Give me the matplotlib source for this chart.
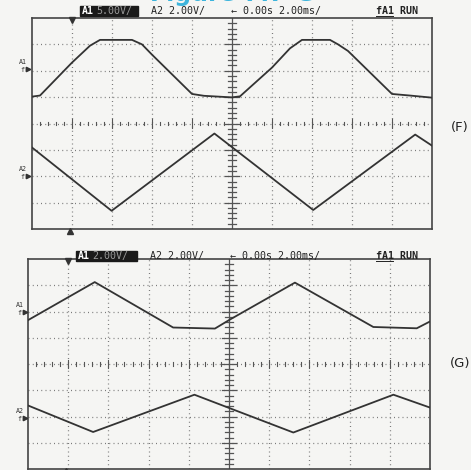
import matplotlib
matplotlib.use("Agg")
import matplotlib.pyplot as plt
import numpy as np

W, H = 471, 470

# ---- data (divisions: x 0..10, y -4..4) ----
f_a1_t = [0, 0.2, 1.0, 1.45, 1.7, 2.5, 2.75, 3.0, 4.0, 4.3, 5.0, 5.2, 6.0, 6.45, 6.75, 7.45, 7.65, 7.9, 9.0, 9.45, 10.0]
f_a1_v = [1.02, 1.06, 2.31, 2.95, 3.17, 3.17, 3.0, 2.61, 1.12, 1.05, 0.99, 1.03, 2.12, 2.85, 3.17, 3.17, 3.0, 2.75, 1.12, 1.06, 0.98]
f_a2_t = [0, 1.99, 4.56, 7.03, 9.58, 10.0]
f_a2_v = [-0.91, -3.31, -0.38, -3.28, -0.42, -0.84]

g_a1_t = [0, 1.66, 3.61, 4.65, 5.02, 6.64, 8.59, 9.67, 10.0]
g_a1_v = [1.67, 3.12, 1.39, 1.35, 1.69, 3.10, 1.41, 1.36, 1.62]
g_a2_t = [0, 1.62, 4.14, 6.6, 9.09, 10.0]
g_a2_v = [-1.58, -2.59, -1.17, -2.61, -1.17, -1.66]

f_header = ["A1", "5.00V/", "A2 2.00V/", "\u2190 0.00s 2.00ms/", "fA1 RUN"]
g_header = ["A1", "2.00V/", "A2 2.00V/", "\u2190 0.00s 2.00ms/", "fA1 RUN"]
panel_labels = ["(F)", "(G)"]

BG = "#f5f5f3"
TRACE = "#333333"
GRID = "#7a7a7a"

fig = plt.figure(figsize=(W / 100, H / 100), dpi=100)
fig.patch.set_facecolor(BG)


def px_axes(left, top, right, bottom):
    return fig.add_axes([left / W, 1 - bottom / H, (right - left) / W, (bottom - top) / H])


def T(x, y, s, **kw):
    fig.text(x / W, 1 - y / H, s, **kw)


def scope(ax, t1, v1, t2, v2):
    ax.set_xlim(0, 10)
    ax.set_ylim(-4, 4)
    ax.set_facecolor(BG)
    ax.set_xticks([])
    ax.set_yticks([])
    for sp in ax.spines.values():
        sp.set_color("#444444")
        sp.set_linewidth(1.2)
    # dotted grid
    for i in range(1, 10):
        if i == 5:
            continue
        ax.plot([i, i], [-4, 4], color=GRID, lw=0.9, ls=(0, (0.8, 2.6)), zorder=1)
    for j in range(-3, 4):
        if j == 0:
            continue
        ax.plot([0, 10], [j, j], color=GRID, lw=0.9, ls=(0, (0.8, 2.6)), zorder=1)
    # centre horizontal (dotted + ticks)
    ax.plot([0, 10], [0, 0], color=GRID, lw=0.9, ls=(0, (0.8, 2.6)), zorder=1)
    for k in range(1, 50):
        x = k * 0.2
        h = 0.17 if k % 5 == 0 else 0.07
        ax.plot([x, x], [-h, h], color="#555555", lw=0.8, zorder=1)
    # centre vertical (solid + ticks)
    ax.plot([5, 5], [-4, 4], color="#555555", lw=0.9, zorder=1)
    for k in range(1, 40):
        y = -4 + k * 0.2
        w = 0.17 if k % 5 == 0 else 0.09
        ax.plot([5 - w, 5 + w], [y, y], color="#555555", lw=0.9, zorder=1)
    # traces
    ax.plot(t1, v1, color=TRACE, lw=1.3, zorder=3, solid_joinstyle="round")
    ax.plot(t2, v2, color=TRACE, lw=1.3, zorder=3, solid_joinstyle="round")
    # trigger markers
    ax.plot([1], [3.93], marker="v", color="#333333", ms=4, clip_on=False, zorder=4)
    ax.plot([0.95], [-4.08], marker="^", color="#333333", ms=4, clip_on=False, zorder=4)


def header(y, parts, boxx):
    mono = dict(family="DejaVu Sans Mono", fontsize=7.2, va="center", color="#222222")
    bx0, bx1 = boxx
    fig.patches.append(plt.Rectangle((bx0 / W, 1 - (y + 5) / H), (bx1 - bx0) / W, 10 / H,
                                     transform=fig.transFigure, color="#1a1a1a", zorder=2))
    T(bx0 + 2, y, parts[0], **{**mono, "color": "white", "weight": "bold"}, zorder=3)
    T(bx0 + 16, y, parts[1], **{**mono, "color": "#9a9a9a"}, zorder=3)
    T(bx1 + 13, y, parts[2], **mono)
    T(bx1 + 93, y, parts[3], **mono)
    T(376, y, parts[4], **{**mono, "weight": "bold"})
    # underline of the "fA1"
    fig.add_artist(plt.Line2D([376 / W, 393 / W], [1 - (y + 5) / H, 1 - (y + 5) / H],
                              color="#222222", lw=0.7))


def side_labels(xl, ya1, ya2):
    small = dict(family="DejaVu Sans Mono", fontsize=4.8, color="#333333", va="center")
    for yy, s in ((ya1, "A1"), (ya2, "A2")):
        T(xl, yy - 7, s, **small)
        T(xl + 1, yy + 1, "f", **small)
        fig.add_artist(plt.Line2D([(xl + 9) / W], [1 - yy / H], marker=">", color="#333333",
                                  ms=3.2, transform=fig.transFigure))


# title fragment (mostly cut off at the top, as in the scan)
T(232, 1, "Figure 7.7-G", fontsize=17, color="#3cb4dc", ha="center", va="baseline", weight="bold")

# Panel F
axF = px_axes(32, 18, 432, 229)
scope(axF, f_a1_t, f_a1_v, f_a2_t, f_a2_v)
header(11, f_header, (80, 138))
side_labels(19, 69, 176)
T(460, 127, panel_labels[0], fontsize=9.5, ha="center", va="center", color="#222222")

# Panel G
axG = px_axes(28, 259, 430, 469)
scope(axG, g_a1_t, g_a1_v, g_a2_t, g_a2_v)
header(256, g_header, (76, 137))
side_labels(16, 312, 418)
T(460, 363, panel_labels[1], fontsize=9.5, ha="center", va="center", color="#222222")

fig.savefig("out.png", dpi=100, facecolor=BG)
